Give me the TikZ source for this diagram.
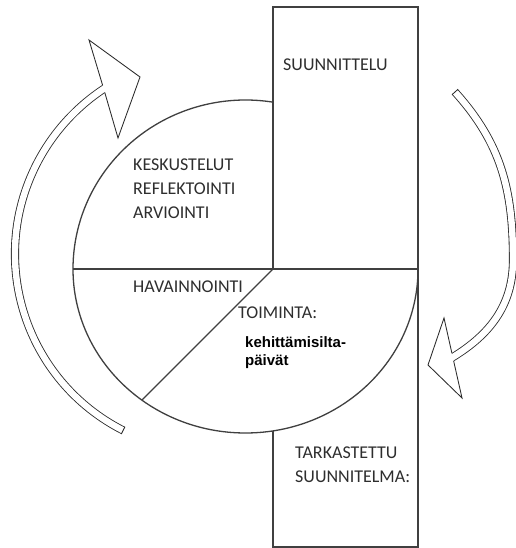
\documentclass[tikz,border=0pt]{standalone}
\usepackage{fontspec}
\newfontfamily\carlitofont{Carlito}
\newfontfamily\arialfont{Liberation Sans}
\definecolor{linegray}{HTML}{404040}
\definecolor{bandgray}{HTML}{2A2A2A}
\definecolor{textgray}{HTML}{2E2E2E}
\begin{document}
\begin{tikzpicture}[x=1pt,y=1pt,
  shapeline/.style={draw=linegray, line width=1.3pt},
  band/.style={draw=bandgray, line width=0.85pt, double=white, double distance=6.4pt},
  bandline/.style={draw=bandgray, line width=0.85pt},
  head/.style={draw=bandgray, line width=0.85pt, line join=miter},
  lbl/.style={anchor=base west, inner sep=0pt, text=textgray, font=\carlitofont\fontsize{18}{22}\selectfont},
  sublbl/.style={anchor=base west, inner sep=0pt, text=black, font=\arialfont\bfseries\fontsize{15}{18}\selectfont}]
\useasboundingbox[fill=white] (0,0) rectangle (515,548);

% main shapes
\coordinate (W) at (73,279);
\coordinate (E) at (418,279);
\coordinate (O) at (273,279);
\coordinate (D) at (142,148);
\draw[shapeline] (273,279) rectangle (418,541);
\draw[shapeline] (273,117.1) -- (273,1) -- (418,1) -- (418,279);
\draw[shapeline] (W) -- (E);
\draw[shapeline] (W) arc[start angle=180, end angle=80.83, x radius=172.5, y radius=169];
\draw[shapeline] (W) arc[start angle=180, end angle=360, x radius=172.5, y radius=164];
\draw[shapeline] (O) -- (D);

% left curved arrow
\coordinate (lc) at (213,294);
\draw[band] (lc) ++(243:198) arc[start angle=243, end angle=121, radius=198];
\draw[bandline] (lc) ++(243:193.95) -- ++(243:8.1);
\fill[white] (102.6,462.8) -- (89,508) -- (140,471) -- (118,410) -- (104.8,455.4) -- cycle;
\draw[head] (102.6,462.8) -- (89,508) -- (140,471) -- (118,410) -- (104.8,455.4);

% right curved arrow
\coordinate (A) at (455,456);
\coordinate (B) at (513,288);
\coordinate (C) at (448,188);
\draw[band] (A) to[out=-48,in=90] (B) to[out=-90,in=30] (C);
\draw[bandline] (A) ++(42:4.05) -- ++(222:8.1);
\fill[white] (451.95,194.6) -- (444,230) -- (428,183) -- (462,150) -- (453.65,187.0) -- cycle;
\draw[head] (451.95,194.6) -- (444,230) -- (428,183) -- (462,150) -- (453.65,187.0);

% labels
\node[lbl] (suun) at (283,477.2) {SUUNNITTELU};
\node[lbl] (kesk) at (133,377.2) {KESKUSTELUT};
\node[lbl] (refl) at (133,353.2) {REFLEKTOINTI};
\node[lbl] (arvi) at (133,329.2) {ARVIOINTI};
\node[lbl] (hava) at (133,255.2) {HAVAINNOINTI};
\node[lbl] (toim) at (238,229.2) {TOIMINTA:};
\node[sublbl] (kehi) at (245,200.6) {kehittämisilta-};
\node[sublbl] (paiv) at (245,182.6) {päivät};
\node[lbl] (tark) at (295,89.2) {TARKASTETTU};
\node[lbl] (suti) at (295,65.2) {SUUNNITELMA:};
\end{tikzpicture}
\end{document}
